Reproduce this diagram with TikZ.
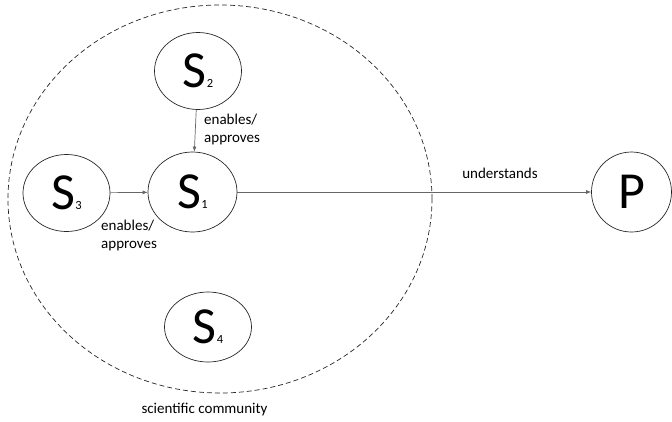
\documentclass[tikz,border=0pt]{standalone}
\usepackage{fontspec}
\setmainfont{Carlito}
\usetikzlibrary{shapes.geometric,arrows.meta}
\tikzset{
  agent/.style={ellipse, draw=black!85, line width=0.7pt, inner sep=0pt, minimum width=87pt, minimum height=77pt},
  link/.style={draw=black!60, line width=0.7pt, -{Latex[length=5pt,width=4pt]}},
  lbl/.style={font=\fontsize{15}{18}\selectfont, align=left, inner sep=0pt},
}
\newcommand{\Sym}[2]{{\fontsize{52}{52}\selectfont #1}{\fontsize{12.5}{12.5}\selectfont #2}}
\begin{document}
\begin{tikzpicture}[x=1pt,y=-1pt]
\useasboundingbox (0,0) rectangle (672,421);
\node[ellipse, draw=black!85, dashed, dash pattern=on 5pt off 3pt, line width=0.7pt, minimum width=424pt, minimum height=388pt, inner sep=0pt] (community) at (220,199) {};
\node[agent] (s2) at (198,71) {\Sym{S}{2}};
\node[agent, minimum width=89pt, minimum height=80pt] (s1) at (192.5,192) {\Sym{S}{1}};
\node[agent] (s3) at (66.5,193) {\Sym{S}{3}};
\node[agent, minimum height=70pt] (s4) at (208,327) {\Sym{S}{4}};
\node[agent, minimum width=80pt, minimum height=80pt] (p) at (631.5,192) {{\fontsize{52}{52}\selectfont P}};
\draw[link] (s2) -- (s1);
\draw[link] (s3) -- (s1);
\draw[link] (s1) -- (p);
\node[lbl, anchor=west] (l21) at (204,129) {enables/\\approves};
\node[lbl, anchor=west] (l31) at (101,235) {enables/\\approves};
\node[lbl] (lu) at (500,173) {understands};
\node[lbl] (lc) at (204.5,410) {scientific community};
\end{tikzpicture}
\end{document}
